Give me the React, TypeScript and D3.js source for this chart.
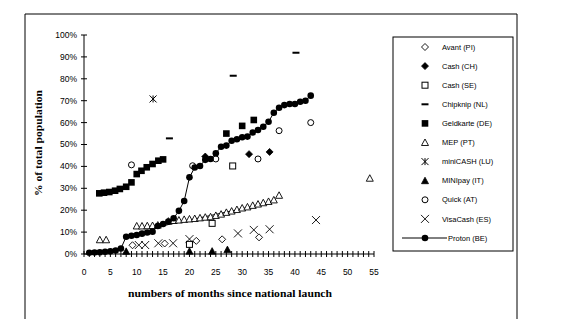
import React from 'react';
import * as d3 from 'd3';

const yTicks = [0, 10, 20, 30, 40, 50, 60, 70, 80, 90, 100];
const xTicks = [0, 5, 10, 15, 20, 25, 30, 35, 40, 45, 50, 55];
const xMinor = d3.range(0, 56, 1);

type Pt = [number, number];

const avant: Pt[] = [[9.2, 4], [15.3, 4.8], [21.3, 6], [26.2, 6.7], [33.2, 7.6]];
const cashCH: Pt[] = [[23, 44.5], [31.3, 45.6], [35.2, 46.6]];
const cashSE: Pt[] = [[20, 4.4], [24.3, 14], [28.2, 40.2]];
const chipknip: Pt[] = [[16.2, 52.8], [28.3, 81.4], [40.2, 91.9]];
const geldkarte: Pt[] = [[2.9, 27.7], [3.8, 28], [4.8, 28.3], [5.9, 28.9], [6.8, 29.7], [8, 30.7], [9, 32.7], [10, 36.5], [10.9, 38], [11.9, 39.6], [13, 41.1], [14.1, 42.6], [15, 43.2], [27, 55], [30, 58.5], [32.2, 61.2]];
const mep: Pt[] = [[3, 6.5], [4.2, 6.5], [10, 12.8], [11, 12.8], [12, 12.9], [13, 13], [14, 13.2], [16, 15], [17, 15.3], [18, 15.5], [19, 15.8], [20, 16], [21, 16.2], [22, 16.5], [23, 16.8], [24, 17], [25, 17.6], [26, 18.2], [27, 19], [28, 19.6], [29, 20.3], [30, 21], [31, 21.5], [32, 22.2], [33, 22.8], [34, 23.4], [35, 24], [36, 24.7], [37, 26.8], [54.2, 34.6]];
const mepTrend: Pt[] = [[13.8, 12.3], [36.2, 23.9]];
const miniCash: Pt[] = [[13.1, 70.8]];
const miniPay: Pt[] = [[8, 1.2], [20, 1.3], [24.3, 1.3], [27.2, 2]];
const quick: Pt[] = [[9, 40.7], [20.6, 40.3], [25, 43.4], [33, 43.4], [37, 56.3], [43, 60]];
const visaCash: Pt[] = [[10.4, 4.1], [11.6, 4.1], [14.1, 4.9], [16.9, 4.9], [20, 6.8], [29.2, 9.4], [32.2, 11], [35.2, 11.3], [44, 15.5]];
const proton: Pt[] = [[1, 0.6], [2, 0.7], [3, 0.8], [4, 1.0], [5, 1.2], [6, 1.6], [7, 2.5], [8, 7.9], [9, 8.3], [10, 8.7], [11, 9.3], [12, 9.8], [13, 10.2], [14, 12.8], [15, 13.7], [16, 14.8], [17, 16.3], [18, 19.7], [19, 24.2], [20, 35], [21, 39.5], [22, 40.2], [23, 43], [24, 43.4], [25, 46], [26, 49], [27, 49.5], [28, 51.7], [29, 52.4], [30, 53.3], [31, 53.6], [32, 55.5], [33, 56.6], [34, 58.1], [35, 60.4], [36, 64.5], [37, 66.8], [38, 68], [39, 68.5], [40, 68.5], [41, 69.5], [42, 70], [43, 72.3]];

const seriesNames = ['Avant (PI)', 'Cash (CH)', 'Cash (SE)', 'Chipknip (NL)', 'Geldkarte (DE)', 'MEP (PT)', 'miniCASH (LU)', 'MINIpay (IT)', 'Quick (AT)', 'VisaCash (ES)', 'Proton (BE)'];
const seriesMarkers = ['diamondOpen', 'diamondFill', 'squareOpen', 'dash', 'squareFill', 'triOpen', 'asterisk', 'triFill', 'circleOpen', 'cross', 'circleFill'];
const seriesData: Pt[][] = [avant, cashCH, cashSE, chipknip, geldkarte, mep, miniCash, miniPay, quick, visaCash, proton];

function Marker({ type, x, y }: { type: string; x: number; y: number }) {
  const s = 3.5;
  switch (type) {
    case 'diamondOpen':
      return <path d={`M${x},${y - s}L${x + s},${y}L${x},${y + s}L${x - s},${y}Z`} fill="#fff" stroke="#000" strokeWidth={0.9} />;
    case 'diamondFill':
      return <path d={`M${x},${y - s}L${x + s},${y}L${x},${y + s}L${x - s},${y}Z`} fill="#000" stroke="#000" strokeWidth={0.8} />;
    case 'squareOpen':
      return <rect x={x - 3} y={y - 3} width={6} height={6} fill="#fff" stroke="#000" strokeWidth={1} />;
    case 'squareFill':
      return <rect x={x - 3.3} y={y - 3.3} width={6.6} height={6.6} fill="#000" />;
    case 'dash':
      return <rect x={x - 3.5} y={y - 1} width={7} height={2} fill="#000" />;
    case 'triOpen':
      return <path d={`M${x},${y - 3.5}L${x + 3.5},${y + 3}L${x - 3.5},${y + 3}Z`} fill="#fff" stroke="#000" strokeWidth={0.9} />;
    case 'triFill':
      return <path d={`M${x},${y - 3.5}L${x + 3.5},${y + 3}L${x - 3.5},${y + 3}Z`} fill="#000" stroke="#000" strokeWidth={0.8} />;
    case 'asterisk':
      return (
        <g stroke="#000" strokeWidth={1}>
          <line x1={x} y1={y - s} x2={x} y2={y + s} />
          <line x1={x - s} y1={y - s} x2={x + s} y2={y + s} />
          <line x1={x - s} y1={y + s} x2={x + s} y2={y - s} />
        </g>
      );
    case 'cross':
      return (
        <g stroke="#000" strokeWidth={0.9}>
          <line x1={x - 4} y1={y - 4} x2={x + 4} y2={y + 4} />
          <line x1={x - 4} y1={y + 4} x2={x + 4} y2={y - 4} />
        </g>
      );
    case 'circleOpen':
      return <circle cx={x} cy={y} r={3} fill="#fff" stroke="#000" strokeWidth={1} />;
    case 'circleFill':
      return <circle cx={x} cy={y} r={3.3} fill="#000" />;
  }
  return null;
}

export default function App() {
  const x = d3.scaleLinear().domain([0, 55]).range([84, 374]);
  const y = d3.scaleLinear().domain([0, 100]).range([254, 35]);
  const line = d3.line<Pt>().x(d => x(d[0])).y(d => y(d[1]));
  const tickFont = '"Liberation Sans", Arial, sans-serif';
  const titleFont = '"Liberation Serif", "Times New Roman", serif';

  return (
    <svg width={578} height={319} style={{ position: 'absolute', left: 0, top: 0, background: '#fff' }}>
      {/* outer frame */}
      <path d="M25,330V14H517V330" fill="none" stroke="#000" strokeWidth={1} />

      {/* y axis */}
      <line x1={x(0)} y1={y(0)} x2={x(0)} y2={y(100)} stroke="#000" />
      {yTicks.map(t => (
        <g key={'y' + t}>
          <line x1={x(0) - 3} x2={x(0) + 3} y1={y(t)} y2={y(t)} stroke="#000" />
          <text x={77} y={y(t)} dy="0.35em" textAnchor="end" fontFamily={tickFont} fontSize={8.5}>{t}%</text>
        </g>
      ))}

      {/* x axis */}
      <line x1={x(0)} y1={y(0)} x2={x(55)} y2={y(0)} stroke="#000" />
      {xMinor.map(t => (
        <line key={'xm' + t} x1={x(t)} x2={x(t)} y1={y(0) - 3} y2={y(0) + 3} stroke="#000" />
      ))}
      {xTicks.map(t => (
        <text key={'x' + t} x={x(t)} y={272} dy="0.35em" textAnchor="middle" fontFamily={tickFont} fontSize={8.5}>{t}</text>
      ))}

      {/* titles */}
      <text x={230} y={293} dy="0.35em" textAnchor="middle" fontFamily={titleFont} fontWeight="bold" fontSize={10} textLength={204} lengthAdjust="spacingAndGlyphs">numbers of months since national launch</text>
      <text transform="translate(38,143) rotate(-90)" dy="0.35em" textAnchor="middle" fontFamily={titleFont} fontWeight="bold" fontSize={10} textLength={106} lengthAdjust="spacingAndGlyphs">% of total population</text>

      {/* MEP trend line */}
      <path d={line(mepTrend) || ''} fill="none" stroke="#000" strokeWidth={1} />

      {/* series */}
      {seriesData.map((data, i) => (
        <g key={'s' + i}>
          {seriesMarkers[i] === 'circleFill' && (
            <path d={line(data) || ''} fill="none" stroke="#000" strokeWidth={1} />
          )}
          {data.map((d, j) => (
            <Marker key={j} type={seriesMarkers[i]} x={x(d[0])} y={y(d[1])} />
          ))}
        </g>
      ))}

      {/* legend */}
      <rect x={393} y={37} width={120} height={214} fill="#fff" stroke="#000" strokeWidth={1} />
      {seriesNames.map((name, i) => {
        const ly = 47 + i * 19.1;
        const isLine = seriesMarkers[i] === 'circleFill';
        return (
          <g key={'l' + i}>
            {isLine && <line x1={402} x2={447} y1={ly} y2={ly} stroke="#000" />}
            <Marker type={seriesMarkers[i]} x={425} y={ly} />
            <text x={isLine ? 448 : 442} y={ly} dy="0.35em" fontFamily={tickFont} fontSize={7.5}>{name}</text>
          </g>
        );
      })}
    </svg>
  );
}
